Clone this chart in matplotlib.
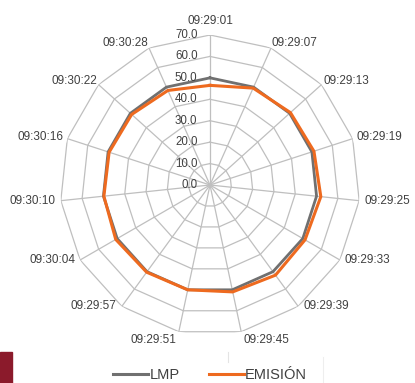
import numpy as np
import matplotlib
matplotlib.use("Agg")
import matplotlib.pyplot as plt
from matplotlib.patches import Rectangle
from matplotlib.lines import Line2D

categories = ["09:29:01", "09:29:07", "09:29:13", "09:29:19", "09:29:25",
              "09:29:33", "09:29:39", "09:29:45", "09:29:51", "09:29:57",
              "09:30:04", "09:30:10", "09:30:16", "09:30:22", "09:30:28"]
lmp = [50, 50, 50, 50, 50, 50, 50, 50, 50, 50, 50, 50, 50, 50, 50]
emision = [46.5, 49.5, 50.5, 51, 52, 51.2, 52, 51, 50, 50.3,
           50.8, 49.8, 49.5, 49.2, 48.3]
levels = [0, 10, 20, 30, 40, 50, 60, 70]

plt.rcParams['font.family'] = ['Liberation Sans', 'DejaVu Sans']
txt = '#404040'
grid = '#bfbfbf'

fig = plt.figure(figsize=(4.15, 3.83), dpi=100)
ax = fig.add_axes([60/415, 48/383, 300/415, 300/383], projection='polar')
ax.set_theta_zero_location('N')
ax.set_theta_direction(-1)
ax.grid(False)
ax.spines['polar'].set_visible(False)
ax.set_xticks([])
ax.set_yticks([])
ax.set_ylim(0, 70)

n = len(categories)
ang = np.arange(n) * 2 * np.pi / n
angc = np.append(ang, ang[0])

# polygon grid
for lv in levels[1:]:
    ax.plot(angc, [lv] * (n + 1), color=grid, lw=0.9, zorder=1)
for a in ang:
    ax.plot([a, a], [0, levels[-1]], color=grid, lw=0.9, zorder=1)

ax.plot(angc, lmp + lmp[:1], color='#707070', lw=2.0, zorder=3)
ax.plot(angc, emision + emision[:1], color='#ee6a1f', lw=2.2, zorder=4)

for lv in levels:
    ax.annotate('%.1f' % lv, (0, lv), xytext=(-9, 0), textcoords='offset points',
                ha='right', va='center', fontsize=8.3, color=txt)

# category labels, placed outside each spoke (offsets in pixels -> points)
px = 0.72
for a, lab in zip(ang, categories):
    s, c = np.sin(a), np.cos(a)
    sgn = np.sign(s) if abs(s) > 0.05 else 0
    ha = {1: 'left', -1: 'right', 0: 'center'}[int(sgn)]
    if c > 0.95:
        va, dx, dy = 'bottom', 0, 8
    elif c < -0.95:
        va, dx, dy = 'top', 2 * sgn, -2
    else:
        va = 'center'
        dx = sgn * 5 * (1 - max(c, 0))
        dy = 5 * max(c, 0)
    ax.annotate(lab, (a, levels[-1]), xytext=(dx * px, dy * px), textcoords='offset points',
                ha=ha, va=va, fontsize=8.5, color=txt)

handles = [Line2D([], [], color='#707070', lw=2.2),
           Line2D([], [], color='#ee6a1f', lw=2.2)]
fig.legend(handles, ['LMP', 'EMISIÓN'], loc='center', bbox_to_anchor=(210/415, 1 - 375/383),
           ncol=2, frameon=False, fontsize=10.5, handlelength=2.4, handletextpad=0.1,
           columnspacing=2.0, labelcolor=txt)

fig.patches.append(Rectangle((0, 0), 12/415, 31/383, transform=fig.transFigure,
                             color='#8b1a2b', zorder=0))
fig.add_artist(Line2D([228/415, 228/415], [1 - 362/383, 1 - 352/383],
                      color='#e4e4e4', lw=0.8))
fig.add_artist(Line2D([323/415, 323/415], [0, 1 - 357/383],
                      color='#eeeeee', lw=0.8))

fig.savefig('out.png', dpi=100)
